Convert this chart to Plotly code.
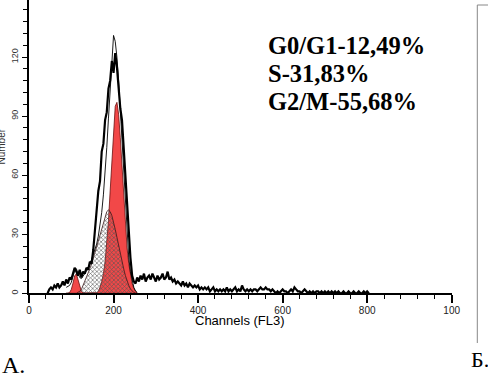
import plotly.graph_objects as go

# ---------------- data ----------------
# measured histogram: channel bins starting at 44, every 4 channels
hist_start = 44
hist_step = 4
hist_counts = [
    0, 2, 3, 2, 4, 3, 5, 3, 4, 6, 4, 7, 5, 8, 7, 10, 13, 11, 9, 12,
    8, 11, 10, 13, 12, 16, 15, 22, 33, 40, 52, 57, 72, 76, 88, 92, 104, 108, 118, 112,
    122, 115, 104, 94, 88, 74, 60, 44, 30, 18, 9, 6, 5, 8, 6, 9, 7, 10, 6, 8,
    9, 7, 10, 8, 6, 9, 7, 8, 10, 7, 8, 11, 7, 8, 6, 7, 5, 6, 5, 4,
    6, 4, 5, 3, 5, 4, 3, 4, 3, 4, 2, 3, 2, 3, 2, 3, 1, 2, 3, 1,
    2, 1, 2, 1, 2, 1, 3, 1, 2, 1, 2, 3, 1, 2, 1, 4, 2, 1, 2, 1,
    2, 1, 2, 2, 1, 2, 3, 2, 2, 3, 2, 2, 1, 2, 1, 0, 1, 0, 1, 2,
    1, 1, 0, 1, 2, 1, 3, 2, 1, 1, 0, 1, 2, 1, 0, 1, 0, 1, 0, 1,
    1, 0, 1, 0, 1, 0, 1, 0, 1, 0, 1, 0, 1, 0, 0, 1, 0, 0, 1, 0,
    0, 1, 0, 0, 1, 0, 0, 1, 0, 1, 0,
]

# fitted model components on a common channel grid
fit_channels = [88, 92, 96, 100, 104, 108, 112, 116, 120, 124, 128, 132, 136, 140, 144,
                148, 152, 156, 160, 164, 168, 172, 176, 180, 184, 188, 192, 196, 200,
                204, 208, 212, 216, 220, 224, 228, 232, 236, 240, 244, 248, 252, 256]
g0g1 = [0, 0, 0.4, 1.9, 5.1, 8.8, 9.9, 7.1, 3.3, 1.0, 0.2, 0, 0, 0, 0,
        0, 0, 0, 0, 0, 0, 0, 0, 0, 0, 0, 0, 0, 0,
        0, 0, 0, 0, 0, 0, 0, 0, 0, 0, 0, 0, 0, 0]
s_phase = [0, 0, 0, 0, 0, 0, 0, 0.5, 1, 2, 4, 6, 8, 10, 12.5,
           15, 17.5, 20.5, 23.5, 26.5, 29.5, 32.5, 36, 39, 41.5, 42.3, 41.5, 39.5, 36.5,
           32.5, 28.5, 24, 20, 16, 12.5, 9, 6, 4, 2.2, 1, 0.4, 0, 0]
g2m = [0, 0, 0, 0, 0, 0, 0, 0, 0, 0, 0, 0, 0, 0, 0,
       0, 0, 0.3, 0.3, 1, 3, 6, 10, 16, 25, 37, 52, 68, 83,
       95, 97, 91, 79, 64, 48, 34, 23, 15, 9, 5, 2.5, 1, 0.3]
fit_total = [3, 3.5, 4, 5.5, 8.5, 11.5, 12.5, 10.5, 8, 7.5, 8.5, 10, 11.5, 13, 15,
             17, 19.5, 22, 25, 29, 34, 41, 50, 61, 74, 89, 105, 122, 131,
             128, 120, 108, 93, 76, 58, 42, 28, 18, 11, 6, 3, 1.2, 0.4]

x_tick_vals = [0, 200, 400, 600, 800, 1000]
x_tick_text = ["0", "200", "400", "600", "800", "100"]
y_tick_vals = [0, 30, 60, 90, 120]
y_tick_text = ["0", "30", "60", "90", "120"]

phase_labels = ["G0/G1-12,49%", "S-31,83%", "G2/M-55,68%"]

# ---------------- figure ----------------
W, H = 488, 376
hist_x = [hist_start + i * hist_step for i in range(len(hist_counts))]

RED = "#f24848"
fig = go.Figure()

fig.add_trace(go.Scatter(x=fit_channels, y=g2m, mode="lines", fill="tozeroy",
                         fillcolor=RED, line=dict(color="#6a1010", width=0.8),
                         hoverinfo="skip"))
fig.add_trace(go.Scatter(x=fit_channels, y=g0g1, mode="lines", fill="tozeroy",
                         fillcolor=RED, line=dict(color="#6a1010", width=0.8),
                         hoverinfo="skip"))
fig.add_trace(go.Scatter(x=fit_channels, y=s_phase, mode="lines", fill="tozeroy",
                         fillcolor="rgba(0,0,0,0)",
                         fillpattern=dict(shape="x", size=3, solidity=0.35,
                                          fgcolor="#555555", bgcolor="rgba(0,0,0,0)"),
                         line=dict(color="#3a1a1a", width=0.8),
                         hoverinfo="skip"))
fig.add_trace(go.Scatter(x=fit_channels, y=fit_total, mode="lines",
                         line=dict(color="black", width=0.9), hoverinfo="skip"))
fig.add_trace(go.Scatter(x=hist_x, y=hist_counts, mode="lines",
                         line=dict(color="black", width=2.2), hoverinfo="skip"))

x0_px, x1_px = 29, 451.7
y0_px, y1_px = 293.3, 0

fig.update_layout(
    template=None,
    width=W, height=H, margin=dict(l=0, r=0, t=0, b=0, autoexpand=False),
    paper_bgcolor="white", plot_bgcolor="white", showlegend=False,
    font=dict(family="Liberation Sans, Arial, sans-serif", color="black"),
    xaxis=dict(domain=[x0_px / W, x1_px / W], range=[0, 1000], automargin=False,
               tickmode="array", tickvals=x_tick_vals, ticktext=x_tick_text,
               ticks="outside", ticklen=8, tickwidth=1.5, tickcolor="black",
               ticklabelstandoff=-1,
               showline=True, linecolor="black", linewidth=2,
               showgrid=False, zeroline=False,
               tickfont=dict(size=10, color="#222"),
               minor=dict(tickmode="linear", tick0=0, dtick=40, ticks="outside",
                          ticklen=4, tickwidth=1.2, tickcolor="black", showgrid=False)),
    yaxis=dict(domain=[(H - y0_px) / H, (H - y1_px) / H], range=[0, 149], automargin=False,
               tickmode="array", tickvals=y_tick_vals, ticktext=y_tick_text,
               ticks="outside", ticklen=5, tickwidth=1.2, tickcolor="black",
               tickangle=-90,
               showline=True, linecolor="black", linewidth=2,
               showgrid=False, zeroline=False,
               tickfont=dict(size=9, color="#333"),
               minor=dict(tickmode="linear", tick0=0, dtick=6, ticks="outside",
                          ticklen=4, tickwidth=1, tickcolor="black", showgrid=False)),
)

ann = []
# axis titles
ann.append(dict(x=(x0_px + x1_px) / 2 / W, y=(H - 320) / H, xref="paper", yref="paper",
                text="Channels (FL3)", showarrow=False, xanchor="center", yanchor="middle",
                font=dict(size=13, color="black", family="Liberation Sans, Arial")))
ann.append(dict(x=0.5 / W, y=(H - 147) / H, xref="paper", yref="paper",
                text="Number", showarrow=False, xanchor="center", yanchor="middle",
                textangle=-90,
                font=dict(size=10, color="#333", family="Liberation Sans, Arial")))
# phase percentages
for i, t in enumerate(phase_labels):
    ann.append(dict(x=266 / W, y=(H - (45.3 + 28.3 * i)) / H, xref="paper", yref="paper",
                    text="<b>" + t + "</b>", showarrow=False, xanchor="left",
                    yanchor="middle",
                    font=dict(size=24.5, color="black",
                              family="Liberation Serif, Times New Roman, serif")))
ann.append(dict(x=0 / W, y=(H - 365) / H, xref="paper", yref="paper", text="А.",
                showarrow=False, xanchor="left", yanchor="middle",
                font=dict(size=24, color="black", family="Liberation Serif, serif")))
ann.append(dict(x=469 / W, y=(H - 359) / H, xref="paper", yref="paper", text="Б.",
                showarrow=False, xanchor="left", yanchor="middle",
                font=dict(size=22, color="black", family="Liberation Serif, serif")))
fig.update_layout(annotations=ann)

# frame of neighbouring panel
fig.add_shape(type="line", xref="paper", yref="paper",
              x0=477.3 / W, x1=477.3 / W, y0=(H - 5) / H, y1=(H - 343) / H,
              line=dict(color="#888", width=1))
fig.add_shape(type="line", xref="paper", yref="paper",
              x0=477.3 / W, x1=1, y0=(H - 5) / H, y1=(H - 5) / H,
              line=dict(color="#888", width=1))

fig.write_html("out.html",
               config={"displayModeBar": False},
               post_script="document.body.style.margin='0';"
                           "document.body.style.overflow='hidden';")
